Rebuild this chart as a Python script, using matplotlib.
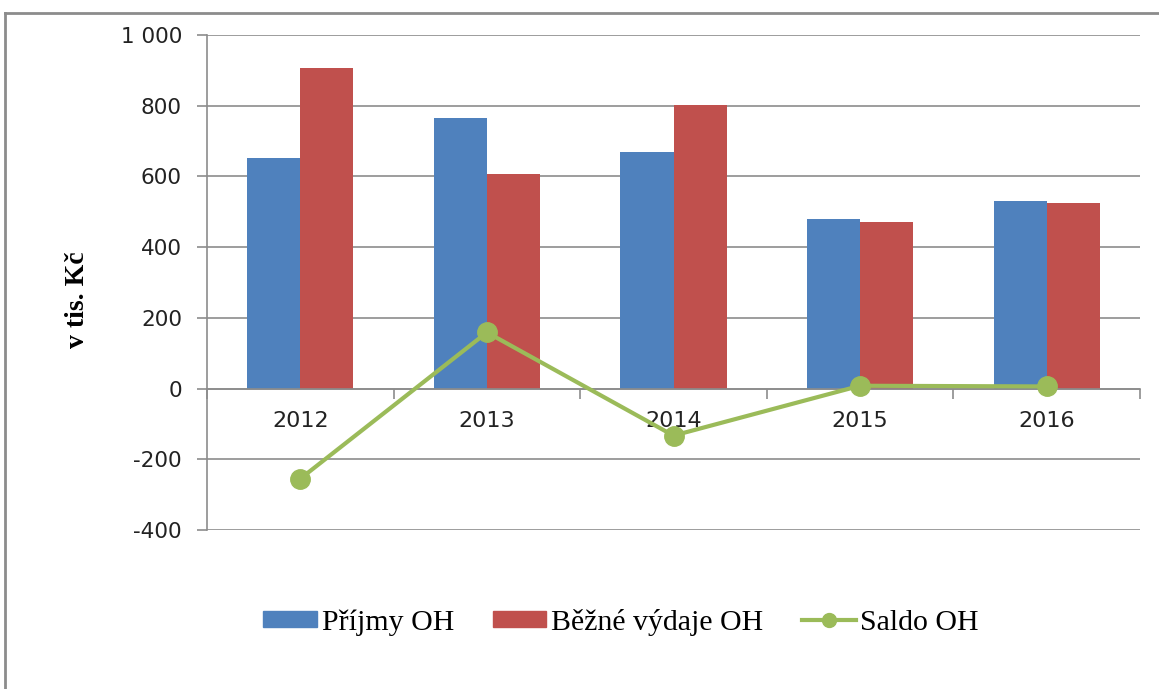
import matplotlib
matplotlib.use("Agg")
import matplotlib.pyplot as plt
from matplotlib.lines import Line2D
from matplotlib.patches import Patch
import numpy as np

years = ["2012", "2013", "2014", "2015", "2016"]
prijmy = [652, 766, 669, 480, 531]
vydaje = [907, 607, 802, 472, 525]
saldo = [-255, 159, -133, 8, 6]
yticks = [-400, -200, 0, 200, 400, 600, 800, 1000]
ytick_labels = ["-400", "-200", "0", "200", "400", "600", "800", "1 000"]

BLUE = "#4F81BD"
RED = "#C0504D"
GREEN = "#9BBB59"
GRID = "#8C8C8C"

W, H = 1159, 689
fig = plt.figure(figsize=(W / 100, H / 100), dpi=100)
ax = fig.add_axes([207 / W, 1 - 530 / H, (1140 - 207) / W, (530 - 35) / H])

x = np.arange(len(years))
bw = 0.285
ax.bar(x - bw / 2, prijmy, bw, color=BLUE, zorder=2)
ax.bar(x + bw / 2, vydaje, bw, color=RED, zorder=2)
ax.plot(x, saldo, color=GREEN, lw=3, marker="o", ms=14, zorder=4,
        solid_capstyle="round")

ax.set_xlim(-0.5, len(years) - 0.5)
ax.set_ylim(-400, 1000)
ax.set_yticks(yticks)
ax.set_yticklabels(ytick_labels, family="DejaVu Sans", fontsize=15.5, color="#222222")
ax.tick_params(axis="y", length=7, width=1.2, color=GRID, pad=11)
ax.grid(axis="y", color=GRID, lw=1.2, zorder=0)
ax.set_axisbelow(True)

for s in ["top", "right"]:
    ax.spines[s].set_visible(False)
ax.spines["left"].set_color(GRID)
ax.spines["left"].set_linewidth(1.2)
ax.spines["bottom"].set_position(("data", 0))
ax.spines["bottom"].set_color(GRID)
ax.spines["bottom"].set_linewidth(1.2)

ax.set_xticks(x)
ax.set_xticklabels(years, family="DejaVu Sans", fontsize=16, color="#222222")
ax.set_xticks(np.arange(-0.5, len(years)), minor=True)
ax.tick_params(axis="x", which="major", length=0, pad=16)
ax.tick_params(axis="x", which="minor", length=7, width=1.2, color=GRID)

fig.text(77 / W, 1 - 300 / H, "v tis. Kč", rotation=90, ha="center", va="center",
         family="Liberation Serif", fontweight="bold", fontsize=20)

# outer frame
fig.add_artist(Line2D([5 / W, 5 / W], [0, 1 - 13 / H], transform=fig.transFigure,
                      color="#8C8C8C", lw=2))
fig.add_artist(Line2D([5 / W, 1], [1 - 13 / H, 1 - 13 / H], transform=fig.transFigure,
                      color="#8C8C8C", lw=2))

handles = [Patch(color=BLUE, label="Příjmy OH"),
           Patch(color=RED, label="Běžné výdaje OH"),
           Line2D([], [], color=GREEN, lw=3, marker="o", ms=10, label="Saldo OH")]
fig.legend(handles=handles, loc="center", bbox_to_anchor=(621 / W, 1 - 622 / H),
           ncol=3, frameon=False, prop={"family": "Liberation Serif", "size": 21.5},
           handlelength=1.8, handletextpad=0.15, columnspacing=1.3, handleheight=0.45)

fig.savefig("out.png", dpi=100)
